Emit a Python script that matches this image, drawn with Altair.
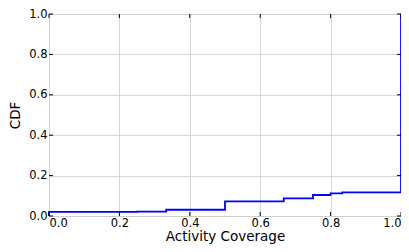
import altair as alt
import pandas as pd

coverage = [0.0, 0.0, 0.25, 0.333, 0.5, 0.667, 0.75, 0.8, 0.833, 1.0, 1.0]
cdf = [0.0, 0.02, 0.022, 0.031, 0.072, 0.087, 0.104, 0.112, 0.117, 0.117, 1.0]
ticks = [0.0, 0.2, 0.4, 0.6, 0.8, 1.0]

df = pd.DataFrame({"x": coverage, "y": cdf, "o": list(range(len(coverage)))})
tdf = pd.DataFrame({"t": ticks})

W, H = 352, 202
font = "DejaVu Sans"

xs = alt.Scale(domain=[0, 1], nice=False, zero=False)
ys = alt.Scale(domain=[0, 1], nice=False, zero=False)

common = dict(values=ticks, format=".1f", grid=True, gridColor="#cccccc", gridWidth=0.8,
              domain=False, ticks=False, labelFont=font, titleFont=font,
              labelFontSize=11.5, titleFontSize=13.5, labelColor="black", titleColor="black",
              titleFontWeight="normal")

line = alt.Chart(df).mark_line(color="#0000ff", strokeWidth=1.8, interpolate="step-after", clip=False).encode(
    x=alt.X("x:Q", scale=xs, title="Activity Coverage",
            axis=alt.Axis(labelPadding=1, titlePadding=1, **common)),
    y=alt.Y("y:Q", scale=ys, title="CDF",
            axis=alt.Axis(labelPadding=2, titlePadding=6, **common)),
    order="o:Q",
)

xt_bottom = alt.Chart(tdf).mark_rule(color="black", strokeWidth=1).encode(
    x=alt.X("t:Q", scale=xs), y=alt.value(H), y2=alt.value(H - 4))
xt_top = alt.Chart(tdf).mark_rule(color="black", strokeWidth=1).encode(
    x=alt.X("t:Q", scale=xs), y=alt.value(0), y2=alt.value(4))
yt_left = alt.Chart(tdf).mark_rule(color="black", strokeWidth=1).encode(
    y=alt.Y("t:Q", scale=ys), x=alt.value(0), x2=alt.value(4))
yt_right = alt.Chart(tdf).mark_rule(color="black", strokeWidth=1).encode(
    y=alt.Y("t:Q", scale=ys), x=alt.value(W), x2=alt.value(W - 4))

chart = alt.layer(line, xt_bottom, xt_top, yt_left, yt_right).properties(
    width=W, height=H,
    autosize=alt.AutoSizeParams(type="none"),
    padding={"left": 41, "top": 6, "right": 0, "bottom": 31},
).configure_view(stroke="#333333", strokeWidth=1.5).configure(background="white")

chart.save("out.html", embed_options={"renderer": "svg", "actions": False})
